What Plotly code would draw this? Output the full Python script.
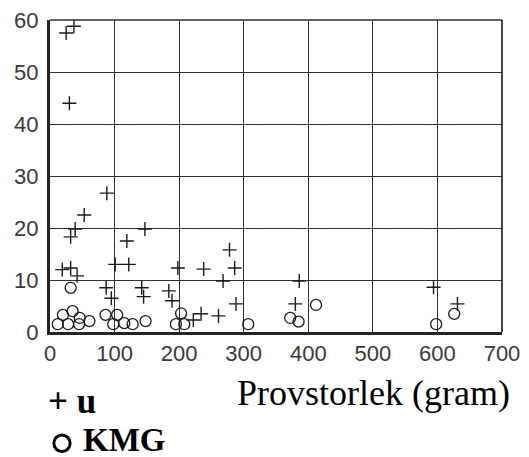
import plotly.graph_objects as go

# u series (+)
u_x = [25, 37, 30, 88, 53, 39, 32, 147, 119, 19, 32, 42, 101, 122, 198, 238, 278, 286, 268,
       87, 95, 142, 145, 184, 189, 288, 234, 222, 261, 386, 380, 594, 631]
u_y = [57.5, 58.8, 44, 26.7, 22.5, 19.8, 18.3, 19.8, 17.5, 12, 12.3, 10.8, 13, 13, 12.3, 12.1, 15.8, 12.3, 9.8,
       8.5, 6.5, 8.5, 6.8, 7.9, 6, 5.4, 3.5, 2.3, 3.1, 9.8, 5.4, 8.6, 5.4]

# KMG series (o)
kmg_x = [32, 12, 20, 28, 35, 45, 46, 61, 86, 104, 98, 115, 128, 148, 195, 203, 208, 307,
         372, 385, 412, 598, 626]
kmg_y = [8.5, 1.5, 3.3, 1.5, 4, 1.5, 2.7, 2.1, 3.3, 3.3, 1.5, 1.7, 1.5, 2.1, 1.5, 3.6, 1.5, 1.5,
         2.7, 2, 5.2, 1.5, 3.5]

x_ticks = [0, 100, 200, 300, 400, 500, 600, 700]
y_ticks = [0, 10, 20, 30, 40, 50, 60]

fig = go.Figure()
fig.add_trace(go.Scatter(x=u_x, y=u_y, mode="markers", name="u",
                         marker=dict(symbol="cross-thin", size=10, line=dict(color="#1a1a1a", width=1.4))))
fig.add_trace(go.Scatter(x=kmg_x, y=kmg_y, mode="markers", name="KMG",
                         marker=dict(symbol="circle-open", size=11, color="#1a1a1a", line=dict(color="#1a1a1a", width=1.3))))

grid_col = "#3b2c28"
fig.update_layout(
    width=529, height=457,
    margin=dict(l=50, r=27, t=20, b=125),
    plot_bgcolor="white", paper_bgcolor="white",
    showlegend=False,
    font=dict(family="Liberation Sans, Arial, sans-serif", size=22, color="#3a3a3a"),
    xaxis=dict(range=[0, 700], tickvals=x_ticks, ticktext=[str(v) for v in x_ticks],
               showgrid=True, gridcolor=grid_col, gridwidth=1.3, zeroline=False,
               showline=True, linecolor="#2a221c", linewidth=3, mirror=False,
               ticks="", ticklen=0, automargin=False),
    yaxis=dict(range=[0, 60], tickvals=y_ticks, ticktext=[str(v) for v in y_ticks],
               showgrid=True, gridcolor=grid_col, gridwidth=1.3, zeroline=False,
               showline=True, linecolor="#2a221c", linewidth=3, mirror=False,
               ticks="", ticklen=0, ticklabelstandoff=4, automargin=False),
)

# top and right frame lines
fig.add_shape(type="line", xref="paper", yref="paper", x0=0, x1=1, y0=1, y1=1,
              line=dict(color=grid_col, width=1.6))
fig.add_shape(type="line", xref="paper", yref="paper", x0=1, x1=1, y0=0, y1=1,
              line=dict(color=grid_col, width=1.8))

serif = "Liberation Serif, Times New Roman, serif"
fig.add_annotation(xref="paper", yref="paper", x=1.023, y=-0.196, xanchor="right", yanchor="middle",
                   text="Provstorlek (gram)", showarrow=False,
                   font=dict(family=serif, size=36, color="#000"))
fig.add_annotation(xref="paper", yref="paper", x=-0.008, y=-0.224, xanchor="left", yanchor="middle",
                   text="<b>+ u</b>", showarrow=False,
                   font=dict(family=serif, size=35, color="#000"))
# legend ring for KMG
fig.add_shape(type="circle", xref="paper", yref="paper",
              x0=0.0085, x1=0.0445, y0=-0.383, y1=-0.330,
              line=dict(color="#000", width=3))
fig.add_annotation(xref="paper", yref="paper", x=0.068, y=-0.347, xanchor="left", yanchor="middle",
                   text="<b>KMG</b>", showarrow=False,
                   font=dict(family=serif, size=33, color="#000"))

fig.write_html("out.html")
